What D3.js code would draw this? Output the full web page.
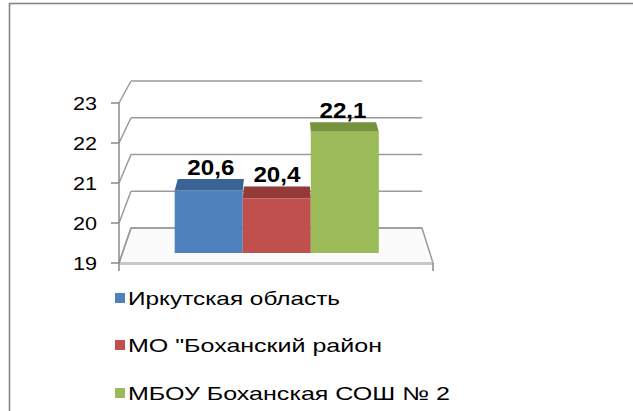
<!DOCTYPE html>
<html>
<head>
<meta charset="utf-8">
<script src="https://cdn.jsdelivr.net/npm/d3@7"></script>
<style>
  html, body { margin: 0; padding: 0; background: #fff; }
  svg { display: block; }
</style>
</head>
<body>
<div id="chart"></div>
<script>
// ---- data ----
var seriesNames = ["Иркутская область", "МО \"Боханский район", "МБОУ Боханская СОШ № 2"];
var seriesValues = [20.6, 20.4, 22.1];
var valueLabels = ["20,6", "20,4", "22,1"];
var yTicks = [19, 20, 21, 22, 23];

var frontColors = ["#4f81bd", "#c0504d", "#9bbb59"];
var topColors = ["#3a6396", "#943b39", "#76923c"];

var width = 633, height = 411;
var font = "'Liberation Sans', Arial, sans-serif";

var svg = d3.select("#chart").append("svg")
  .attr("width", width)
  .attr("height", height);

// outer frame (cropped at right / bottom)
svg.append("rect")
  .attr("x", 9.5).attr("y", 3.5)
  .attr("width", 700).attr("height", 500)
  .attr("fill", "none")
  .attr("stroke", "#858585")
  .attr("stroke-width", 1.6);

// ---- 3d projection: front plane and back plane ----
var yFront = d3.scaleLinear().domain([19, 23]).range([263, 103]);
var yBack = d3.scaleLinear().domain([19, 23]).range([228, 81]);
var xFront = d3.scaleLinear().domain([0, 1]).range([119, 433]);
var xBack = d3.scaleLinear().domain([0, 1]).range([131, 422]);

function px(f, t) { return xFront(f) * (1 - t) + xBack(f) * t; }
function py(v, t) { return yFront(v) * (1 - t) + yBack(v) * t; }

// bars sit in the middle of the depth
var tF = 0.286, tB = 0.67;
var band = d3.scaleBand().domain(d3.range(seriesValues.length)).range([0.17, 0.834]).padding(0);

var gridColor = "#9a9a9a";

// floor
svg.append("path")
  .attr("d", "M" + px(0, 0) + "," + py(19, 0) + "L" + px(1, 0) + "," + py(19, 0) +
             "L" + px(1, 1) + "," + py(19, 1) + "L" + px(0, 1) + "," + py(19, 1) + "Z")
  .attr("fill", "#fbfbfb")
  .attr("stroke", gridColor)
  .attr("stroke-width", 1.5);
svg.append("line")
  .attr("x1", px(0, 0)).attr("x2", px(1, 0))
  .attr("y1", py(19, 0) + 0.5).attr("y2", py(19, 0) + 0.5)
  .attr("stroke", "#c8c8c8").attr("stroke-width", 3);

// back wall gridlines + side wall diagonals
yTicks.forEach(function(v) {
  svg.append("line")
    .attr("x1", px(0, 1)).attr("x2", px(1, 1))
    .attr("y1", py(v, 1)).attr("y2", py(v, 1))
    .attr("stroke", gridColor).attr("stroke-width", 1.5);
  svg.append("line")
    .attr("x1", px(0, 1)).attr("y1", py(v, 1))
    .attr("x2", px(0, 0)).attr("y2", py(v, 0))
    .attr("stroke", gridColor).attr("stroke-width", 1.5);
});

// front value axis
svg.append("line")
  .attr("x1", px(0, 0)).attr("x2", px(0, 0))
  .attr("y1", py(23, 0)).attr("y2", py(19, 0) + 8)
  .attr("stroke", "#8a8a8a").attr("stroke-width", 1.5);
svg.append("line")
  .attr("x1", px(1, 0)).attr("x2", px(1, 0))
  .attr("y1", py(19, 0)).attr("y2", py(19, 0) + 8)
  .attr("stroke", "#8a8a8a").attr("stroke-width", 1.5);

yTicks.forEach(function(v) {
  svg.append("line")
    .attr("x1", px(0, 0) - 8).attr("x2", px(0, 0))
    .attr("y1", py(v, 0)).attr("y2", py(v, 0))
    .attr("stroke", "#8a8a8a").attr("stroke-width", 1.5);
  svg.append("text")
    .attr("x", px(0, 0) - 46).attr("y", py(v, 0) + 7)
    .attr("font-family", font)
    .attr("font-size", 19)
    .attr("textLength", 24)
    .attr("lengthAdjust", "spacingAndGlyphs")
    .text(v);
});

// bars
seriesValues.forEach(function(v, i) {
  var f0 = band(i), f1 = band(i) + band.bandwidth();
  // top face
  svg.append("path")
    .attr("d", "M" + px(f0, tF) + "," + py(v, tF) +
               "L" + px(f1, tF) + "," + py(v, tF) +
               "L" + px(f1, tB) + "," + py(v, tB) +
               "L" + px(f0, tB) + "," + py(v, tB) + "Z")
    .attr("fill", topColors[i]);
  // front face
  svg.append("path")
    .attr("d", "M" + px(f0, tF) + "," + py(v, tF) +
               "L" + px(f1, tF) + "," + py(v, tF) +
               "L" + px(f1, tF) + "," + py(19, tF) +
               "L" + px(f0, tF) + "," + py(19, tF) + "Z")
    .attr("fill", frontColors[i]);
  // value label
  svg.append("text")
    .attr("x", px((f0 + f1) / 2, tB) - 23.5).attr("y", py(v, tB) - 4.5)
    .attr("font-family", font)
    .attr("font-size", 22)
    .attr("font-weight", "bold")
    .attr("textLength", 47)
    .attr("lengthAdjust", "spacingAndGlyphs")
    .text(valueLabels[i]);
});

// legend
var legendY = [305, 352, 400];
var legendW = [212, 254, 322];
seriesNames.forEach(function(name, i) {
  svg.append("rect")
    .attr("x", 115).attr("y", legendY[i] - 12)
    .attr("width", 10).attr("height", 10)
    .attr("fill", frontColors[i]);
  svg.append("text")
    .attr("x", 128).attr("y", legendY[i])
    .attr("font-family", font)
    .attr("font-size", 18.5)
    .attr("textLength", legendW[i])
    .attr("lengthAdjust", "spacingAndGlyphs")
    .text(name);
});
</script>
</body>
</html>
